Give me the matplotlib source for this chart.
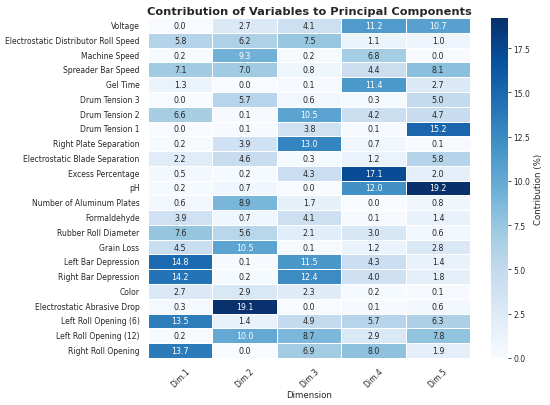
import matplotlib
matplotlib.use("Agg")
import matplotlib.pyplot as plt
import seaborn as sns
import pandas as pd

# variables (rows) and dimensions (columns)
variables = [
    "Voltage", "Electrostatic Distributor Roll Speed", "Machine Speed",
    "Spreader Bar Speed", "Gel Time", "Drum Tension 3", "Drum Tension 2",
    "Drum Tension 1", "Right Plate Separation", "Electrostatic Blade Separation",
    "Excess Percentage", "pH", "Number of Aluminum Plates", "Formaldehyde",
    "Rubber Roll Diameter", "Grain Loss", "Left Bar Depression",
    "Right Bar Depression", "Color", "Electrostatic Abrasive Drop",
    "Left Roll Opening (6)", "Left Roll Opening (12)", "Right Roll Opening",
]
dimensions = ["Dim.1", "Dim.2", "Dim.3", "Dim.4", "Dim.5"]

dim1 = [0.0, 5.8, 0.2, 7.1, 1.3, 0.0, 6.6, 0.0, 0.2, 2.2, 0.5, 0.2,
        0.6, 3.9, 7.6, 4.5, 14.8, 14.2, 2.7, 0.3, 13.5, 0.2, 13.7]
dim2 = [2.7, 6.2, 9.3, 7.0, 0.0, 5.7, 0.1, 0.1, 3.9, 4.6, 0.2, 0.7,
        8.9, 0.7, 5.6, 10.5, 0.1, 0.2, 2.9, 19.1, 1.4, 10.0, 0.0]
dim3 = [4.1, 7.5, 0.2, 0.8, 0.1, 0.6, 10.5, 3.8, 13.0, 0.3, 4.3, 0.0,
        1.7, 4.1, 2.1, 0.1, 11.5, 12.4, 2.3, 0.0, 4.9, 8.7, 6.9]
dim4 = [11.2, 1.1, 6.8, 4.4, 11.4, 0.3, 4.2, 0.1, 0.7, 1.2, 17.1, 12.0,
        0.0, 0.1, 3.0, 1.2, 4.3, 4.0, 0.2, 0.1, 5.7, 2.9, 8.0]
dim5 = [10.7, 1.0, 0.0, 8.1, 2.7, 5.0, 4.7, 15.2, 0.1, 5.8, 2.0, 19.2,
        0.8, 1.4, 0.6, 2.8, 1.4, 1.8, 0.1, 0.6, 6.3, 7.8, 1.9]

contrib = pd.DataFrame(
    {"Dim.1": dim1, "Dim.2": dim2, "Dim.3": dim3, "Dim.4": dim4, "Dim.5": dim5},
    index=variables,
)[dimensions]

sns.set_theme(style="white")
plt.rcParams["font.family"] = ["DejaVu Sans"]

fig = plt.figure(figsize=(5.5, 4.06), dpi=100)
ax = fig.add_axes([0.269, 0.116, 0.586, 0.837])
cax = fig.add_axes([0.893, 0.116, 0.030, 0.837])

sns.heatmap(contrib, ax=ax, cbar_ax=cax, cmap="Blues", annot=True, fmt=".1f",
            linewidths=0.5, linecolor="white", vmin=0,
            xticklabels=True, yticklabels=True,
            annot_kws={"size": 5.7},
            cbar_kws={"label": "Contribution (%)"})

ax.set_title("Contribution of Variables to Principal Components",
             fontsize=8.2, fontweight="bold", pad=3)
ax.set_xlabel("Dimension", fontsize=6.2, labelpad=1)
ax.set_ylabel("")
ax.tick_params(axis="both", labelsize=5.5, length=0, pad=6)
plt.setp(ax.get_xticklabels(), rotation=45)
plt.setp(ax.get_yticklabels(), rotation=0)

cax.tick_params(labelsize=5.5, length=2.5, width=0.6, pad=1.5)
cax.yaxis.label.set_size(6.2)
cax.yaxis.labelpad = 3

fig.savefig("out.png", dpi=100)
